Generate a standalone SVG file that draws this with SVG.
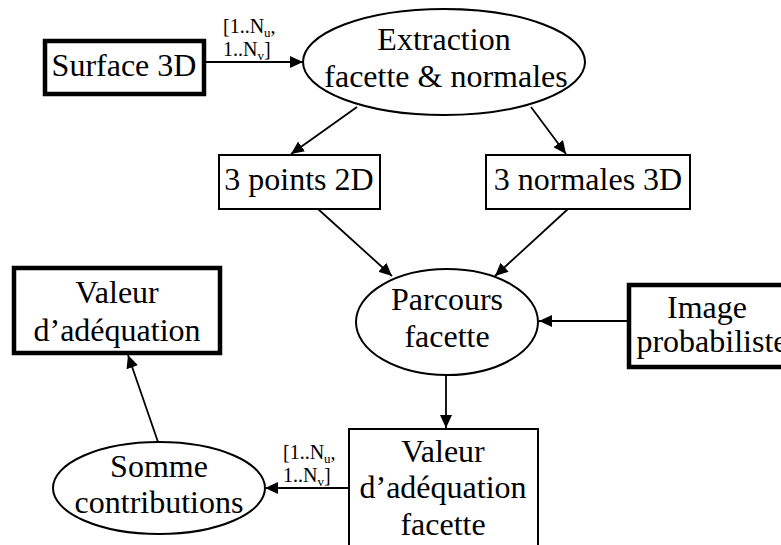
<svg xmlns="http://www.w3.org/2000/svg" width="781" height="545" viewBox="0 0 781 545">
<style>
.nodetext{font-family:"Liberation Serif","Times New Roman","DejaVu Serif",serif;font-size:32px;fill:#000;text-anchor:middle}
.edgetext{font-family:"Liberation Serif","Times New Roman","DejaVu Serif",serif;font-size:20px;fill:#000;text-anchor:start}
.thick{fill:#fff;stroke:#000;stroke-width:4.5}
.box{fill:#fff;stroke:#000;stroke-width:2}
.ell{fill:#fff;stroke:#000;stroke-width:2}
.c{stroke:#000;stroke-width:1.8;fill:none;marker-end:url(#ah)}
</style>
<defs>
<marker id="ah" markerUnits="userSpaceOnUse" markerWidth="14" markerHeight="12" refX="13" refY="6" orient="auto">
<path d="M0,0 L13,6 L0,12 Z" fill="#000"/>
</marker>
</defs>
<rect width="781" height="545" fill="#fff"/>
<g id="connectors">
<line class="c" x1="206" y1="62" x2="303" y2="62"/>
<line class="c" x1="357" y1="107" x2="291" y2="154"/>
<line class="c" x1="531" y1="107" x2="566" y2="154"/>
<line class="c" x1="318" y1="209" x2="392" y2="276"/>
<line class="c" x1="568" y1="209" x2="495" y2="276"/>
<line class="c" x1="627" y1="321" x2="539" y2="321"/>
<line class="c" x1="446" y1="375" x2="446" y2="428"/>
<line class="c" x1="348" y1="488" x2="265" y2="488"/>
<line class="c" x1="158" y1="442" x2="128" y2="355"/>
<text class="edgetext" x="223" y="33">[1..N<tspan font-size="13" dy="4">u</tspan><tspan dy="-4">,</tspan></text>
<text class="edgetext" x="223" y="56">1..N<tspan font-size="13" dy="4">v</tspan><tspan dy="-4">]</tspan></text>
<text class="edgetext" x="283" y="459">[1..N<tspan font-size="13" dy="4">u</tspan><tspan dy="-4">,</tspan></text>
<text class="edgetext" x="283" y="482">1..N<tspan font-size="13" dy="4">v</tspan><tspan dy="-4">]</tspan></text>
</g>
<g id="surface3d">
<rect class="thick" x="45" y="41" width="159" height="53"/>
<text class="nodetext" x="124" y="76">Surface 3D</text>
</g>
<g id="extraction">
<ellipse class="ell" cx="444" cy="62" rx="141" ry="53"/>
<text class="nodetext" x="444" y="50">Extraction</text>
<text class="nodetext" x="446" y="87">facette &amp; normales</text>
</g>
<g id="points2d">
<rect class="box" x="219" y="155" width="161" height="54"/>
<text class="nodetext" x="299" y="190">3 points 2D</text>
</g>
<g id="normales3d">
<rect class="box" x="486" y="155" width="204" height="54"/>
<text class="nodetext" x="588" y="190">3 normales 3D</text>
</g>
<g id="parcours">
<ellipse class="ell" cx="447" cy="322" rx="91" ry="53"/>
<text class="nodetext" x="447" y="310">Parcours</text>
<text class="nodetext" x="447" y="347">facette</text>
</g>
<g id="image">
<rect class="thick" x="629" y="285" width="160" height="82"/>
<text class="nodetext" x="707" y="318">Image</text>
<text class="nodetext" x="712" y="352">probabiliste</text>
</g>
<g id="valeurfacette">
<rect class="box" x="349" y="429" width="189" height="130"/>
<text class="nodetext" x="443" y="462">Valeur</text>
<text class="nodetext" x="443" y="498">d’adéquation</text>
<text class="nodetext" x="443" y="535">facette</text>
</g>
<g id="somme">
<ellipse class="ell" cx="159" cy="488" rx="106" ry="46"/>
<text class="nodetext" x="159" y="477">Somme</text>
<text class="nodetext" x="159" y="513">contributions</text>
</g>
<g id="valeur">
<rect class="thick" x="14" y="268" width="206" height="85"/>
<text class="nodetext" x="117" y="303">Valeur</text>
<text class="nodetext" x="117" y="341">d’adéquation</text>
</g>
</svg>
